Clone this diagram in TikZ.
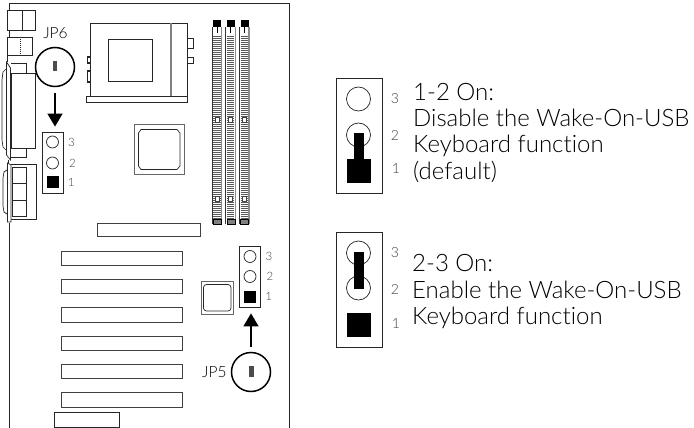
\documentclass[tikz,border=0pt]{standalone}
\usepackage{tikz}
\usepackage{fontspec}
\setmainfont{Lato Light}[Ligatures=NoCommon]
\usetikzlibrary{positioning,arrows.meta}
\tikzset{
  board/.style={draw=black!85,line width=0.7pt},
  slotbox/.style={draw=black!75,line width=0.9pt,fill=white},
  pinhole/.style={draw=black!85,circle,line width=0.7pt,inner sep=0pt,fill=white},
  jumperbox/.style={draw=black!85,line width=0.8pt,inner sep=0pt,fill=white},
  zoomring/.style={draw=black,circle,line width=1.5pt,minimum size=39pt,inner sep=0pt},
  pointer/.style={draw=black,line width=1.6pt,-{Triangle[length=13pt,width=15pt]}},
  pinlabel/.style={inner sep=0pt,text=black!75,font=\fontsize{11.5}{11.5}\selectfont},
  biglabel/.style={inner sep=0pt,anchor=base west,text=black,font=\fontsize{24}{26}\selectfont},
  jplabel/.style={inner sep=0pt,text=black,font=\fontsize{15.5}{15.5}\selectfont}
}
\begin{document}
\begin{tikzpicture}[x=1pt,y=1pt,yscale=-1,xscale=1]
\useasboundingbox (0,0) rectangle (694,428);

%Shape: Board outline
\draw [board] (9,10) -- (9,3) -- (289,3) -- (289,428);
\draw [board] (9,223) -- (9,428);
\draw [board] (9,30) -- (9,37);

%Shape: Top left connectors
\draw [board] (7.5,10) rectangle (35.5,30);
\draw [board] (22,10) -- (22,30);
\draw [board] (7.5,37) rectangle (32,55);
\draw [board,dashed,line width=0.4pt,dash pattern=on 1pt off 1pt] (20,37) -- (20,55);

%Shape: Parallel port
\draw [board] (11,63) -- (26,63) -- (26,73);
\draw [board] (9,148) -- (9,157) -- (26,157) -- (26,148);
\draw [board] (6,69) -- (3,72) -- (2,80) -- (2,140) -- (3,147) -- (6,150);
\draw [board] (11,73) rectangle (35,148);
\draw [board,fill=white] (6.5,62) -- (10.5,68) -- (10.5,160) -- (6.5,155) -- cycle;
\draw [board] (7,62) -- (7,56) (8,160) -- (8,163);

%Shape: Serial ports
\draw [board] (7,170) -- (4,172) -- (3,178) -- (3,206) -- (4,212) -- (7,214);
\draw [board] (11,164) -- (36,164) -- (36,219) -- (11,219);
\draw [board] (12,167) rectangle (26,183);
\draw [board] (12,183) rectangle (26,200);
\draw [board] (12,200) rectangle (26,216);
\draw [board,fill=white] (7.5,163) -- (11,165) -- (11,222) -- (7.5,222) -- cycle;

%Shape: CPU socket
\draw [board,line width=0.9pt] (90,23) rectangle (187,96);
\draw [draw=black!50,line width=1.2pt] (171,23) -- (171,96);
\draw [board,line width=0.9pt] (108,39) rectangle (152,81);
\draw [board,line width=0.9pt] (86.5,96) rectangle (187,102);
\draw [board] (187,38.5) rectangle (193,48);
\draw [board] (187,57) rectangle (193,63);
\draw [board,line width=1.1pt] (90,57) -- (87.5,57) -- (87.5,63) -- (90,63);
\draw [board,line width=1.1pt] (90,71) -- (87.5,71) -- (87.5,82) -- (90,82);

%Shape: North bridge chip
\draw [draw=black!60,line width=0.9pt] (134.5,124.5) rectangle (184,174);
\draw [board] (141,129.5) -- (177,129.5) -- (180,133) -- (180,166) -- (177,169.5) -- (141,169.5) -- (138.5,166) -- (138.5,133) -- cycle;

%Shape: Memory slots
\foreach \slotx in {212,225.7,239.5} {
  \draw [draw=black!45,line width=1.4pt] (\slotx+9.5,27) -- (\slotx+9.5,224);
  \draw [draw=black!80,line width=0.7pt] (\slotx,27) -- (\slotx,224);
  \foreach \ticky in {36,38,...,220} {
    \draw [draw=black!65,line width=0.75pt] (\slotx+1,\ticky) -- (\slotx+8.5,\ticky);
  }
  \fill [black] (\slotx+1,20) rectangle (\slotx+9,27);
  \fill [white] (\slotx+3,28) rectangle (\slotx+7,33);
  \draw [black,line width=0.5pt] (\slotx+5,27) -- (\slotx+5,33);
  \draw [slotbox,line width=0.8pt] (\slotx+3,117.5) rectangle (\slotx+7,122.5);
  \draw [slotbox,line width=0.8pt] (\slotx+3,196.5) rectangle (\slotx+7,201.5);
  \draw [black,fill=black!50,line width=0.4pt] (\slotx+1,219) rectangle (\slotx+9,224);
}

%Shape: Expansion slots
\draw [slotbox] (97,223) rectangle (200,236);
\foreach \slotoney/\slottwoy in {251/265,279/293,307/322,336/350,364/378,392/407} {
  \draw [slotbox] (61,\slotoney) rectangle (182,\slottwoy);
}
\draw [board,line width=0.9pt] (54,412) rectangle (119.5,427);

%Shape: South bridge chip
\draw [draw=black!60,line width=0.9pt] (201,281.5) rectangle (233,314);
\draw [board,rounded corners=3pt] (203.5,284.5) rectangle (231,311);

%Shape: JP6 jumper on the board
\node [jumperbox,minimum width=21pt,minimum height=61pt] (jpsixblock) at (52.5,162.5) {};
\node [pinhole,minimum size=12pt] (jpsixpinc) at (52.5,142) {};
\node [pinhole,minimum size=12pt] (jpsixpinb) at (52.5,163) {};
\node [fill=black,minimum size=12pt,inner sep=0pt] (jpsixpina) at (52.5,182) {};
\node [pinlabel,right=9pt of jpsixpinc] (jpsixlabc) {3};
\node [pinlabel,right=10pt of jpsixpinb] (jpsixlabb) {2};
\node [pinlabel,right=9pt of jpsixpina] (jpsixlaba) {1};

\node [zoomring] (jpsixring) at (55,67) {};
\node [fill=black!70,minimum width=4.5pt,minimum height=10pt,inner sep=0pt] (jpsixpart) at (55,66) {};
\node [jplabel] (jpsixname) at (55.5,33.5) {JP6};
\draw [pointer,shorten <=6pt,shorten >=5pt] (jpsixring) -- (jpsixring |- jpsixblock.north);

%Shape: JP5 jumper on the board
\node [jumperbox,minimum width=20.5pt,minimum height=61pt] (jpfiveblock) at (250,276.5) {};
\node [pinhole,minimum size=12pt] (jpfivepinc) at (250,256.5) {};
\node [pinhole,minimum size=12pt] (jpfivepinb) at (250,276.5) {};
\node [fill=black,minimum size=12pt,inner sep=0pt] (jpfivepina) at (250,296.5) {};
\node [pinlabel,right=9pt of jpfivepinc] (jpfivelabc) {3};
\node [pinlabel,right=10pt of jpfivepinb] (jpfivelabb) {2};
\node [pinlabel,right=9pt of jpfivepina] (jpfivelaba) {1};

\node [zoomring] (jpfivering) at (251,372) {};
\node [fill=black!70,minimum width=4.5pt,minimum height=11pt,inner sep=0pt] (jpfivepart) at (251.5,371.5) {};
\node [jplabel,left=4pt of jpfivering] (jpfivename) {JP5};
\draw [pointer,shorten <=5pt,shorten >=6pt] (jpfivering) -- (jpfivering |- jpfiveblock.south);

%Shape: Setting 1-2
\node [jumperbox,minimum width=46pt,minimum height=115pt] (setoneblock) at (359,135.5) {};
\node [pinhole,minimum size=24pt] (setonepinc) at (358.5,99) {};
\node [pinhole,minimum size=24pt] (setonepinb) at (358.5,135) {};
\fill [black] (347,159) rectangle (371,183);
\fill [black] (354,133) rectangle (364,159);
\node [pinlabel,font=\fontsize{14}{14}\selectfont] (setonelabc) at (395,99) {3};
\node [pinlabel,font=\fontsize{14}{14}\selectfont] (setonelabb) at (395,135) {2};
\node [pinlabel,font=\fontsize{14}{14}\selectfont] (setonelaba) at (396,169) {1};

%Shape: Setting 2-3
\node [jumperbox,minimum width=46pt,minimum height=115pt] (settwoblock) at (359,289.5) {};
\node [pinhole,minimum size=24pt] (settwopinc) at (358.5,253) {};
\node [pinhole,minimum size=24pt] (settwopinb) at (358.5,288) {};
\fill [black] (347,313) rectangle (371,337);
\fill [black] (354,252) rectangle (364,289);
\node [pinlabel,font=\fontsize{14}{14}\selectfont] (settwolabc) at (395,253) {3};
\node [pinlabel,font=\fontsize{14}{14}\selectfont] (settwolabb) at (395,289) {2};
\node [pinlabel,font=\fontsize{14}{14}\selectfont] (settwolaba) at (396,324) {1};

% Text Node
\node [biglabel] (ononetext) at (413,101) {1-2 On:};
\node [biglabel] (ontwotext) at (413,127) {Disable the Wake-On-USB};
\node [biglabel] (onthreetext) at (413,153) {Keyboard function};
\node [biglabel] (onfourtext) at (413,179) {(default)};
% Text Node
\node [biglabel] (offonetext) at (412,271) {2-3 On:};
\node [biglabel] (offtwotext) at (412,298) {Enable the Wake-On-USB};
\node [biglabel] (offthreetext) at (412,324) {Keyboard function};

\end{tikzpicture}
\end{document}
